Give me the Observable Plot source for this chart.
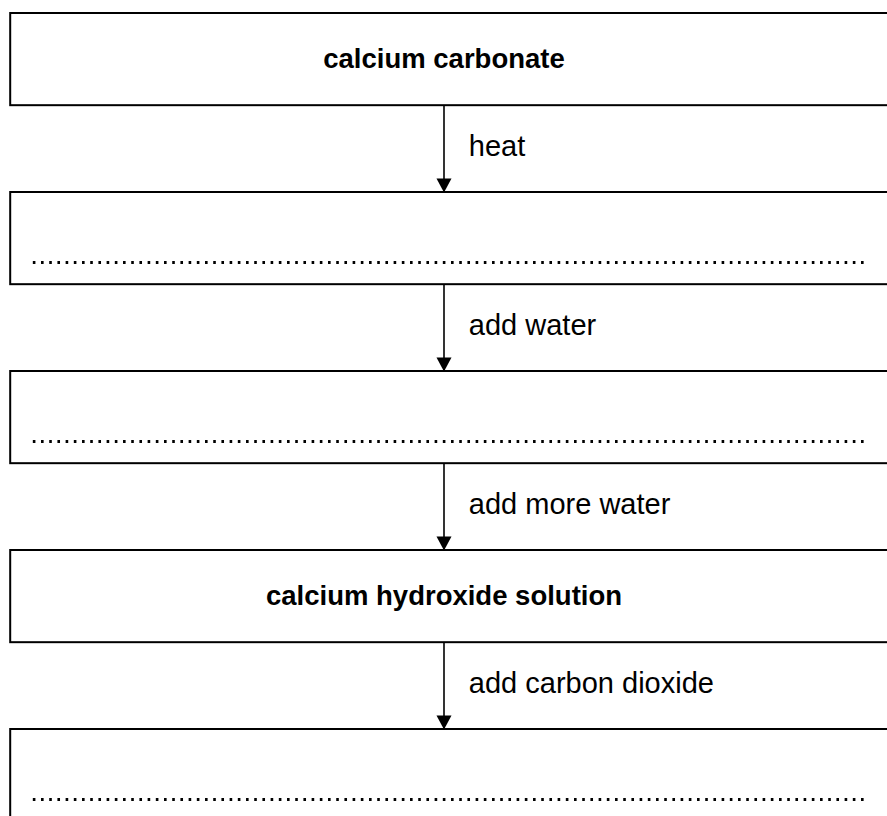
<!DOCTYPE html>
<html><head><meta charset="utf-8">
<script src="https://cdn.jsdelivr.net/npm/d3@7"></script>
<script src="https://cdn.jsdelivr.net/npm/@observablehq/plot@0.6"></script>
<style>
html,body{margin:0;padding:0;background:#fff;overflow:hidden}
#chart svg{display:block;overflow:hidden}
</style></head><body><div id="chart"></div>
<script>
// Flow-chart content
const stages = ["calcium carbonate", null, null, "calcium hydroxide solution", null];
const conditions = ["heat", "add water", "add more water", "add carbon dioxide"];

// Layout (in step units along y, percent of width along x)
const BOX_H = 0.515, DOT_Y = 0.391, LABEL_Y = 0.743;
const CENTER_X = 50, LABEL_X = 52.8, BOX_X1 = 1.15, BOX_X2 = 101, DOT_X1 = 3.7, DOT_X2 = 97.9;

const boxes = stages.map((s, i) => ({i, label: s}));
const steps = conditions.map((c, i) => ({i, label: c}));

const arrowHead = {
  draw(ctx, size) {
    const r = Math.sqrt(size / Math.PI);
    ctx.moveTo(-r, -1.87 * r);
    ctx.lineTo(r, -1.87 * r);
    ctx.lineTo(0, 0);
    ctx.closePath();
  }
};

const chart = Plot.plot({
  width: 887,
  height: 816,
  margin: 0,
  style: {fontFamily: "'Liberation Sans', Arial, sans-serif", background: "white", color: "black"},
  x: {domain: [0, 100], axis: null},
  y: {domain: [-13 / 179, 803 / 179], reverse: true, axis: null},
  marks: [
    Plot.rect(boxes, {x1: BOX_X1, x2: BOX_X2, y1: d => d.i, y2: d => d.i + BOX_H, fill: "white", stroke: "black", strokeWidth: 2}),
    Plot.ruleY(boxes.filter(d => !d.label), {y: d => d.i + DOT_Y, x1: DOT_X1, x2: DOT_X2, stroke: "black", strokeWidth: 2.8, strokeDasharray: "2.6,5.6"}),
    Plot.text(boxes.filter(d => d.label), {x: CENTER_X, y: d => d.i + BOX_H / 2, text: "label", fontWeight: "bold", fontSize: 27.5, fill: "black"}),
    Plot.ruleX(steps, {x: CENTER_X, y1: d => d.i + BOX_H, y2: d => d.i + 1, stroke: "black", strokeWidth: 1.6}),
    Plot.dot(steps, {x: CENTER_X, y: d => d.i + 1, symbol: arrowHead, r: 7.5, fill: "black", stroke: "none"}),
    Plot.text(steps, {x: LABEL_X, y: d => d.i + LABEL_Y, text: "label", textAnchor: "start", fontSize: 29, fill: "black"})
  ]
});
document.getElementById("chart").appendChild(chart);
</script>
</body></html>
